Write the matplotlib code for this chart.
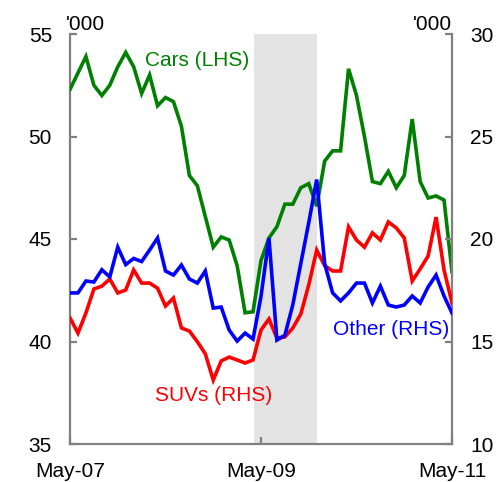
import matplotlib
matplotlib.use("Agg")
import matplotlib.pyplot as plt
import numpy as np

plt.rcParams["font.family"] = ["Liberation Sans", "DejaVu Sans"]

# monthly, May-07 .. May-11 ('000)
months = np.arange(49)
xtick_pos = [0, 24, 48]
xtick_lab = ["May-07", "May-09", "May-11"]

cars = [52.3, 53.1, 53.9, 52.5, 52.0, 52.5, 53.4, 54.1, 53.4, 52.1,
        53.0, 51.5, 51.9, 51.7, 50.5, 48.1, 47.6, 46.1, 44.6, 45.1,
        44.95, 43.7, 41.4, 41.45, 43.95, 45.05, 45.6, 46.7, 46.7, 47.5,
        47.7, 46.6, 48.8, 49.3, 49.3, 53.3, 52.0, 50.0, 47.8, 47.7,
        48.3, 47.5, 48.1, 50.85, 47.8, 47.0, 47.1, 46.9, 43.4]
suvs = [16.15, 15.41, 16.39, 17.56, 17.7, 18.05, 17.37, 17.51, 18.49, 17.85,
        17.85, 17.6, 16.73, 17.12, 15.66, 15.51, 14.99, 14.4, 13.12, 14.05,
        14.24, 14.1, 13.95, 14.1, 15.56, 16.1, 15.17, 15.22, 15.66, 16.34,
        17.76, 19.46, 18.7, 18.44, 18.44, 20.59, 19.95, 19.6, 20.3, 19.95,
        20.83, 20.54, 20.05, 17.95, 18.54, 19.17, 21.07, 18.49, 16.88]
other = [17.37, 17.37, 17.95, 17.9, 18.5, 18.15, 19.6, 18.75, 19.05, 18.9,
         19.46, 20.05, 18.44, 18.24, 18.73, 18.05, 17.85, 18.44, 16.63, 16.68,
         15.56, 15.02, 15.41, 15.12, 17.2, 20.05, 15.07, 15.3, 16.8, 18.8,
         20.8, 22.9, 18.8, 17.37, 16.98, 17.37, 17.85, 17.85, 16.88, 17.7,
         16.78, 16.68, 16.78, 17.22, 16.88, 17.66, 18.24, 17.22, 16.39]
shade = (23.1, 31.0)

GREEN, RED, BLUE, GREY = "#008000", "#ff0000", "#0000ff", "#808080"
FS = 15

fig = plt.figure(figsize=(4.96, 4.82), dpi=100)
ax = fig.add_axes([70/496, 1-444/482, 382/496, 410/482])
ax2 = ax.twinx()

ax.axvspan(*shade, color="#e3e3e3", lw=0, zorder=0)
kw = dict(lw=2.6, solid_joinstyle="miter")
ax.plot(months, cars, color=GREEN, zorder=3, **kw)
ax2.plot(months, suvs, color=RED, zorder=3, **kw)
ax2.plot(months, other, color=BLUE, zorder=4, **kw)

ax.set_xlim(0, 48)
ax.set_ylim(35, 55)
ax2.set_ylim(10, 30)
ax.set_yticks([35, 40, 45, 50, 55])
ax2.set_yticks([10, 15, 20, 25, 30])
ax.set_xticks(xtick_pos)
ax.set_xticklabels(xtick_lab)

for a in (ax, ax2):
    a.spines["top"].set_visible(False)
    for s in ("left", "right", "bottom"):
        a.spines[s].set_color(GREY)
        a.spines[s].set_linewidth(1.6)
    a.tick_params(direction="in", length=5, width=1.6, color=GREY,
                  labelsize=FS, pad=13)
ax.spines["right"].set_visible(False)
ax2.spines["left"].set_visible(False)
ax2.spines["bottom"].set_visible(False)

ax.text(-0.01, 1.024, "'000", transform=ax.transAxes, ha="left", va="center", fontsize=FS)
ax.text(1.0, 1.024, "'000", transform=ax.transAxes, ha="right", va="center", fontsize=FS)

ax.text(9.4, 53.73, "Cars (LHS)", color=GREEN, fontsize=FS, ha="left", va="center")
ax2.text(18.1, 12.39, "SUVs (RHS)", color=RED, fontsize=FS, ha="center", va="center")
ax2.text(40.3, 15.6, "Other (RHS)", color=BLUE, fontsize=FS, ha="center", va="center")

fig.savefig("out.png", dpi=100)
